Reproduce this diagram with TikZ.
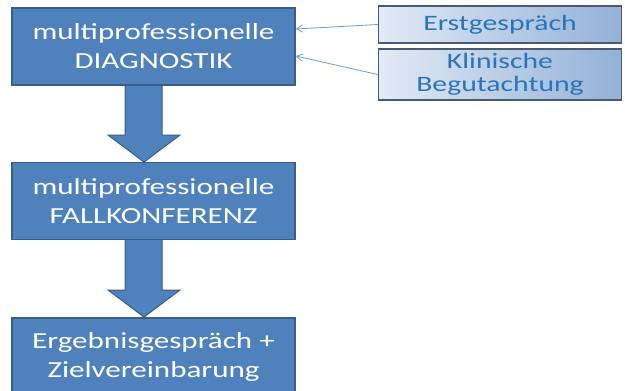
\documentclass[tikz,border=0pt]{standalone}
\usepackage{fontspec}
\setmainfont{Carlito}
\newfontfamily\widefont[FakeStretch=1.35]{Carlito}
\usetikzlibrary{arrows.meta}
\definecolor{mainblue}{HTML}{4F81BD}
\definecolor{mainedge}{HTML}{385D8A}
\definecolor{sidetext}{HTML}{2A74B8}
\definecolor{sideleft}{HTML}{E2EAF5}
\definecolor{sideright}{HTML}{93B1D8}
\definecolor{sideedge}{HTML}{4A5A70}
\definecolor{thinarrow}{HTML}{7596C8}
\tikzset{
  mainbox/.style={draw=mainedge, line width=1.5pt, fill=mainblue, text=white,
    minimum width=283pt, minimum height=77pt, align=center, inner sep=0pt,
    font=\widefont\fontsize{23}{29}\selectfont},
  sidebox/.style={draw=sideedge, line width=1.5pt, left color=sideleft, right color=sideright,
    text=sidetext, minimum width=243pt, align=center, inner sep=0pt,
    font=\widefont\fontsize{22}{23.5}\selectfont},
  blockarrow/.style={draw=mainedge, line width=1pt, fill=mainblue},
  thin/.style={draw=thinarrow, line width=0.8pt, -{Straight Barb[length=6pt,width=7pt]}}
}
\begin{document}
\begin{tikzpicture}[x=1pt,y=1pt]
\clip (0,0) rectangle (625,-391);
\fill[white] (0,0) rectangle (625,-391);
% block arrows
\draw[blockarrow] (125,-84) -- (125,-135) -- (108,-135) -- (144,-162) -- (180,-135) -- (162,-135) -- (162,-84);
\draw[blockarrow] (125,-239) -- (125,-290) -- (108,-290) -- (144,-317) -- (180,-290) -- (162,-290) -- (162,-239);
\node[mainbox] (d) at (153.5,-46.5) {multiprofessionelle\\DIAGNOSTIK};
\node[mainbox] (f) at (153.5,-201) {multiprofessionelle\\FALLKONFERENZ};
\node[mainbox] (z) at (153.5,-356.5) {Ergebnisgespräch +\\Zielvereinbarung};
\node[sidebox, minimum height=37pt] (e) at (500,-24.5) {Erstgespräch};
\node[sidebox, minimum height=51pt] (k) at (500,-74.5) {Klinische\\Begutachtung};
\draw[thin] (e.west) -- ([yshift=17.5pt]d.east);
\draw[thin] (k.west) -- ([yshift=-9.5pt]d.east);
\end{tikzpicture}
\end{document}
